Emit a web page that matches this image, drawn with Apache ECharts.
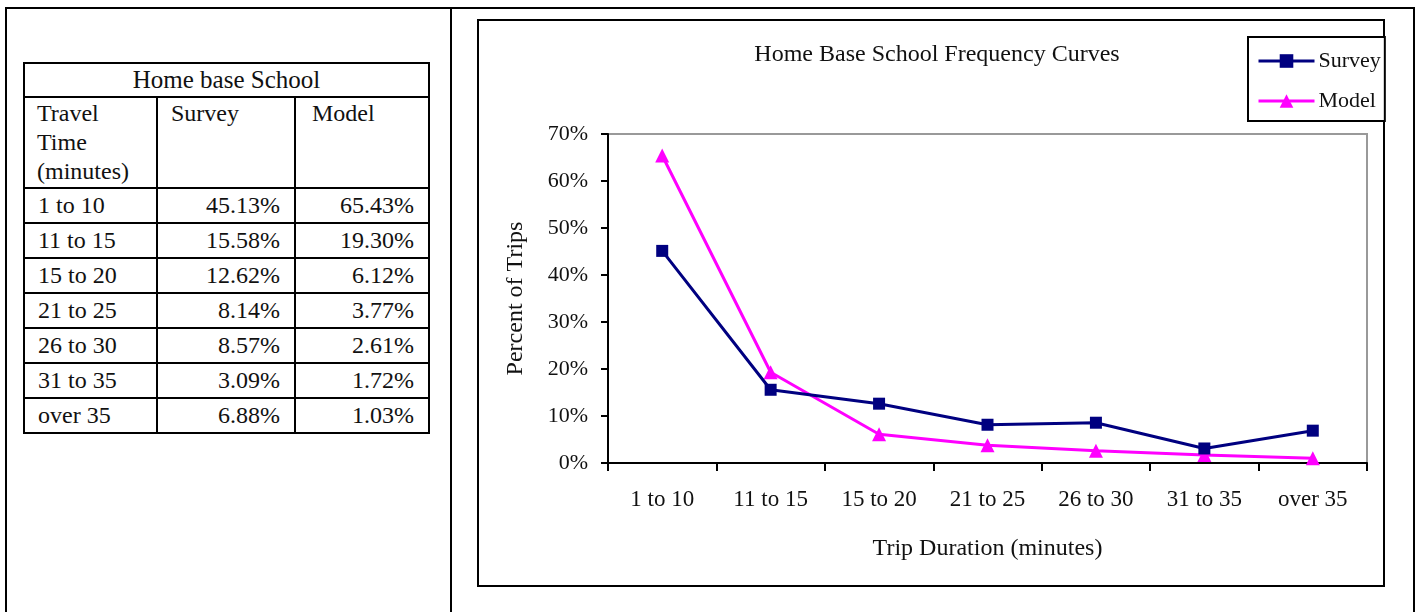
<!DOCTYPE html>
<html>
<head>
<meta charset="utf-8">
<script src="https://cdn.jsdelivr.net/npm/echarts@6/dist/echarts.min.js"></script>
<style>
  html, body { margin: 0; padding: 0; background: #fff; }
  body { width: 1416px; height: 612px; position: relative; overflow: hidden; font-family: "Liberation Serif", "Times New Roman", serif; }
  #frame { position: absolute; left: 5px; top: 7px; width: 1406px; height: 700px; border: 2px solid #000; box-sizing: content-box; }
  #divider { position: absolute; left: 450px; top: 7px; width: 2px; height: 700px; background: #000; }
  #chartBox { position: absolute; left: 477px; top: 19px; width: 904px; height: 564px; border: 2px solid #000; }
  #chart { position: absolute; left: 0; top: 0; width: 1416px; height: 612px; }
  #tbl { position: absolute; left: 23px; top: 62px; border-collapse: collapse; font-family: "Liberation Serif", serif; font-size: 24px; color: #111; }
  #tbl td { border: 2px solid #000; padding: 0; box-sizing: border-box; }
  #tbl .title { height: 34px; text-align: center; line-height: 30px; font-size: 25px; }
  #tbl .head td { height: 91px; vertical-align: top; line-height: 29px; padding-top: 1px; }
  #tbl .head td.c1 { padding-left: 12px; }
  #tbl .head td.c2 { padding-left: 13px; }
  #tbl .head td.c3 { padding-left: 16px; }
  #tbl .row td { height: 35px; line-height: 31px; }
  #tbl .row td.c1 { padding-left: 13px; }
  #tbl .row td.num { text-align: right; padding-right: 14px; }
</style>
</head>
<body>
<div id="frame"></div>
<div id="divider"></div>
<table id="tbl"></table>
<div id="chartBox"></div>
<div id="chart"></div>
<script>
// Travel time bands and trip shares (percent of trips)
const categories = ['1 to 10', '11 to 15', '15 to 20', '21 to 25', '26 to 30', '31 to 35', 'over 35'];
const surveyValues = [45.13, 15.58, 12.62, 8.14, 8.57, 3.09, 6.88];
const modelValues = [65.43, 19.30, 6.12, 3.77, 2.61, 1.72, 1.03];
const tableTitle = 'Home base School';
const tableHeaders = ['Travel<br>Time<br>(minutes)', 'Survey', 'Model'];

// Summary table built from the same arrays
(function buildTable() {
  const t = document.getElementById('tbl');
  let html = '<colgroup><col style="width:133px"><col style="width:138px"><col style="width:134px"></colgroup>';
  html += '<tr><td class="title" colspan="3">' + tableTitle + '</td></tr>';
  html += '<tr class="head"><td class="c1">' + tableHeaders[0] + '</td><td class="c2">' + tableHeaders[1] + '</td><td class="c3">' + tableHeaders[2] + '</td></tr>';
  categories.forEach(function (c, i) {
    html += '<tr class="row"><td class="c1">' + c + '</td><td class="num">' + surveyValues[i].toFixed(2) + '%</td><td class="num">' + modelValues[i].toFixed(2) + '%</td></tr>';
  });
  t.innerHTML = html;
})();

const chart = echarts.init(document.getElementById('chart'), null, { renderer: 'canvas' });
const serif = 'Liberation Serif';
chart.setOption({
  animation: false,
  textStyle: { fontFamily: serif },
  title: {
    text: 'Home Base School Frequency Curves',
    left: 932, top: 38, textAlign: 'center',
    textStyle: { fontFamily: serif, fontSize: 24, fontWeight: 'normal', color: '#111' }
  },
  legend: {
    orient: 'vertical',
    left: 1248, top: 37,
    padding: [12, 4, 8, 9],
    itemGap: 16,
    itemWidth: 56, itemHeight: 17,
    lineStyle: { width: 3 },
    borderColor: '#000', borderWidth: 2, backgroundColor: '#fff',
    textStyle: { fontFamily: serif, fontSize: 22, color: '#111', lineHeight: 24, padding: [0, 0, 0, -1] },
    data: ['Survey', 'Model']
  },
  grid: {
    left: 608, top: 134, right: 49, bottom: 149,
    show: true, borderColor: '#999', borderWidth: 2, backgroundColor: '#fff'
  },
  xAxis: {
    type: 'category',
    data: categories,
    boundaryGap: true,
    name: 'Trip Duration (minutes)',
    nameLocation: 'middle',
    nameGap: 74,
    nameTextStyle: { fontFamily: serif, fontSize: 24, color: '#111' },
    axisLine: { lineStyle: { color: '#000', width: 2 } },
    axisTick: { show: true, length: 8, lineStyle: { color: '#000', width: 2 } },
    axisLabel: { fontFamily: serif, fontSize: 23, color: '#111', margin: 25, interval: 0 },
    splitLine: { show: false }
  },
  yAxis: {
    type: 'value',
    min: 0, max: 70, interval: 10,
    name: 'Percent of Trips',
    nameLocation: 'middle',
    nameGap: 80,
    nameRotate: 90,
    nameTextStyle: { fontFamily: serif, fontSize: 24, color: '#111' },
    axisLine: { show: true, lineStyle: { color: '#000', width: 2 } },
    axisTick: { show: true, length: 7, lineStyle: { color: '#000', width: 2 } },
    axisLabel: { fontFamily: serif, fontSize: 22, color: '#111', margin: 20, formatter: '{value}%' },
    splitLine: { show: false }
  },
  series: [
    {
      name: 'Survey', type: 'line', data: surveyValues,
      symbol: 'rect', symbolSize: 12,
      lineStyle: { color: '#000080', width: 3 },
      itemStyle: { color: '#000080' },
      z: 3
    },
    {
      name: 'Model', type: 'line', data: modelValues,
      symbol: 'triangle', symbolSize: 14,
      lineStyle: { color: '#FF00FF', width: 3 },
      itemStyle: { color: '#FF00FF' },
      z: 2
    }
  ]
});
</script>
</body>
</html>
